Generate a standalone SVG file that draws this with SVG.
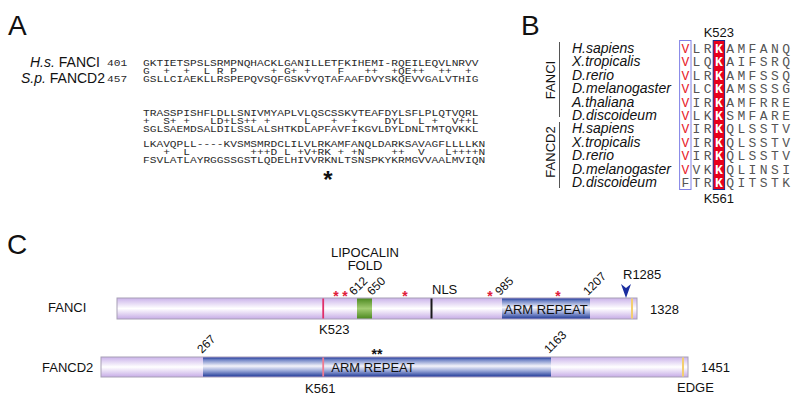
<svg xmlns="http://www.w3.org/2000/svg" width="800" height="400" viewBox="0 0 800 400">
<style>
.sans{font-family:"Liberation Sans",Arial,sans-serif;fill:#111}
.it{font-style:italic}
.seq{font-family:"Liberation Mono","Courier New",monospace;font-size:11.2px;fill:#2a2a2a;white-space:pre}
.bseq{font-family:"Liberation Mono","Courier New",monospace;font-size:13px;fill:#555}
.red{fill:#e8202a}
.kk{fill:#fff;font-weight:bold}
.panel{font-family:"Liberation Sans",Arial,sans-serif;font-size:28px;fill:#111}
.lab{font-family:"Liberation Sans",Arial,sans-serif;font-size:13px;fill:#111}
.num{font-family:"Liberation Sans",Arial,sans-serif;font-size:12px;fill:#111}
.rstar{font-family:"Liberation Sans",Arial,sans-serif;font-size:14px;font-weight:bold;fill:#e0203a}
.bar{fill:url(#lav);stroke:#a8a0b6;stroke-width:1}
</style>
<defs>
<linearGradient id="lav" x1="0" y1="0" x2="0" y2="1">
<stop offset="0" stop-color="#cab2ea"/><stop offset="0.5" stop-color="#ffffff"/><stop offset="1" stop-color="#c6ace6"/>
</linearGradient>
<linearGradient id="arm" x1="0" y1="0" x2="0" y2="1">
<stop offset="0" stop-color="#263f9a"/><stop offset="0.12" stop-color="#7084c6"/><stop offset="0.45" stop-color="#f4f4fb"/><stop offset="0.7" stop-color="#9aa8d8"/><stop offset="1" stop-color="#263f9a"/>
</linearGradient>
<linearGradient id="grn" x1="0" y1="0" x2="0" y2="1">
<stop offset="0" stop-color="#4e8a22"/><stop offset="0.5" stop-color="#a2cc72"/><stop offset="1" stop-color="#4e8a22"/>
</linearGradient>
</defs>

<!-- Panel A -->
<g id="panelA">
<text class="panel" x="8" y="35">A</text>
<text class="sans" font-size="14" x="100" y="67" text-anchor="end"><tspan class="it">H.s.</tspan> FANCI</text>
<text class="sans" font-size="14" x="105" y="83" text-anchor="end"><tspan class="it">S.p.</tspan> FANCD2</text>
<text class="seq" transform="translate(107,66) scale(1,0.8)">401</text>
<text class="seq" transform="translate(107,82) scale(1,0.8)">457</text>
<text class="seq" transform="translate(143,66) scale(1,0.8)">GKTIETSPSLSRMPNQHACKLGANILLETFKIHEMI-RQEILEQVLNRVV</text>
<text class="seq" transform="translate(143,74) scale(1,0.8)">G  +  +  L R P     + G+ +    F   ++  +QE++  ++  +</text>
<text class="seq" transform="translate(143,82) scale(1,0.8)">GSLLCIAEKLLRSPEPQVSQFGSKVYQTAFAAFDVYSKQEVVGALVTHIG</text>
<text class="seq" transform="translate(143,116) scale(1,0.8)">TRASSPISHFLDLLSNIVMYAPLVLQSCSSKVTEAFDYLSFLPLQTVQRL</text>
<text class="seq" transform="translate(143,124) scale(1,0.8)">+  S+ +   LD+LS++ +     L   +  +    DYL  L +  V++L</text>
<text class="seq" transform="translate(143,132) scale(1,0.8)">SGLSAEMDSALDILSSLALSHTKDLAPFAVFIKGVLDYLDNLTMTQVKKL</text>
<text class="seq" transform="translate(143,147) scale(1,0.8)">LKAVQPLL----KVSMSMRDCLILVLRKAMFANQLDARKSAVAGFLLLLKN</text>
<text class="seq" transform="translate(143,155) scale(1,0.8)">   +  L         +++D L +V+RK + +N    ++  V   L++++N</text>
<text class="seq" transform="translate(143,163) scale(1,0.8)">FSVLATLAYRGGSSGSTLQDELHIVVRKNLTSNSPKYKRMGVVAALMVIQN</text>
<text class="sans" font-size="24" font-weight="bold" x="328" y="188" text-anchor="middle">*</text>
</g>

<!-- Panel B -->
<g id="panelB">
<text class="panel" x="521" y="35">B</text>
<text class="lab" x="718.9" y="37" text-anchor="middle" font-size="14">K523</text>
<text class="lab" x="718.9" y="203" text-anchor="middle" font-size="14">K561</text>
<g id="groupLabels">
<line x1="559.5" y1="42" x2="559.5" y2="117" stroke="#555" stroke-width="1"/>
<line x1="559.5" y1="122" x2="559.5" y2="188" stroke="#555" stroke-width="1"/>
<text class="lab" font-size="12.5" transform="translate(555,80) rotate(-90)" text-anchor="middle">FANCI</text>
<text class="lab" font-size="12.5" transform="translate(555,152) rotate(-90)" text-anchor="middle">FANCD2</text>
</g>
<rect x="713.2" y="40.5" width="11.4" height="149" fill="#e8001c" stroke="#1e2a8a" stroke-width="1"/>
<rect x="679.6" y="40.5" width="11.4" height="149" fill="none" stroke="#8080e6" stroke-width="1"/>
<g class="sans it" font-size="14">
<text x="572" y="53">H.sapiens</text>
<text x="572" y="66.4">X.tropicalis</text>
<text x="572" y="79.8">D.rerio</text>
<text x="572" y="93.2">D.melanogaster</text>
<text x="572" y="106.6">A.thaliana</text>
<text x="572" y="120">D.discoideum</text>
<text x="572" y="133.4">H.sapiens</text>
<text x="572" y="146.8">X.tropicalis</text>
<text x="572" y="160.2">D.rerio</text>
<text x="572" y="173.6">D.melanogaster</text>
<text x="572" y="187">D.discoideum</text>
</g>
<g class="bseq" text-anchor="middle">
<text y="53"><tspan class="red" x="685.3">V</tspan><tspan x="696.5 707.7">LR</tspan><tspan class="kk" x="718.9">K</tspan><tspan x="730.1 741.3 752.5 763.7 774.9 786.1">AMFANQ</tspan></text>
<text y="66.4"><tspan class="red" x="685.3">V</tspan><tspan x="696.5 707.7">LQ</tspan><tspan class="kk" x="718.9">K</tspan><tspan x="730.1 741.3 752.5 763.7 774.9 786.1">AIFSRQ</tspan></text>
<text y="79.8"><tspan class="red" x="685.3">V</tspan><tspan x="696.5 707.7">LR</tspan><tspan class="kk" x="718.9">K</tspan><tspan x="730.1 741.3 752.5 763.7 774.9 786.1">AMFSSQ</tspan></text>
<text y="93.2"><tspan class="red" x="685.3">V</tspan><tspan x="696.5 707.7">LC</tspan><tspan class="kk" x="718.9">K</tspan><tspan x="730.1 741.3 752.5 763.7 774.9 786.1">AMSSSG</tspan></text>
<text y="106.6"><tspan class="red" x="685.3">V</tspan><tspan x="696.5 707.7">IR</tspan><tspan class="kk" x="718.9">K</tspan><tspan x="730.1 741.3 752.5 763.7 774.9 786.1">AMFRRE</tspan></text>
<text y="120"><tspan class="red" x="685.3">V</tspan><tspan x="696.5 707.7">LK</tspan><tspan class="kk" x="718.9">K</tspan><tspan x="730.1 741.3 752.5 763.7 774.9 786.1">SMFARE</tspan></text>
<text y="133.4"><tspan class="red" x="685.3">V</tspan><tspan x="696.5 707.7">IR</tspan><tspan class="kk" x="718.9">K</tspan><tspan x="730.1 741.3 752.5 763.7 774.9 786.1">QLSSTV</tspan></text>
<text y="146.8"><tspan class="red" x="685.3">V</tspan><tspan x="696.5 707.7">IR</tspan><tspan class="kk" x="718.9">K</tspan><tspan x="730.1 741.3 752.5 763.7 774.9 786.1">QLSSTV</tspan></text>
<text y="160.2"><tspan class="red" x="685.3">V</tspan><tspan x="696.5 707.7">IR</tspan><tspan class="kk" x="718.9">K</tspan><tspan x="730.1 741.3 752.5 763.7 774.9 786.1">QLSSTV</tspan></text>
<text y="173.6"><tspan class="red" x="685.3">V</tspan><tspan x="696.5 707.7">VK</tspan><tspan class="kk" x="718.9">K</tspan><tspan x="730.1 741.3 752.5 763.7 774.9 786.1">QLINSI</tspan></text>
<text y="187"><tspan x="685.3">F</tspan><tspan x="696.5 707.7">TR</tspan><tspan class="kk" x="718.9">K</tspan><tspan x="730.1 741.3 752.5 763.7 774.9 786.1">QITSTK</tspan></text>
</g>
</g>

<!-- Panel C -->
<text class="panel" x="7" y="254">C</text>

<g id="fanci">
<text class="lab" x="48" y="312">FANCI</text>
<rect class="bar" x="117" y="298" width="520" height="21"/>
<rect x="502" y="298.5" width="88" height="20" fill="url(#arm)"/>
<rect x="357" y="298.5" width="15" height="20" fill="url(#grn)"/>
<rect x="322.3" y="298.5" width="1.8" height="20" fill="#e0306a"/>
<rect x="430.5" y="298.5" width="2" height="20" fill="#1a1a1a"/>
<rect x="631" y="298.5" width="2" height="20" fill="#f3cf70"/>
<text class="lab" x="546" y="314" text-anchor="middle">ARM REPEAT</text>
<text class="lab" x="365" y="257" text-anchor="middle">LIPOCALIN</text>
<text class="lab" x="365" y="270" text-anchor="middle">FOLD</text>
<text class="lab" x="432" y="294">NLS</text>
<text class="lab" x="319" y="334">K523</text>
<text class="lab" x="623" y="279">R1285</text>
<text class="lab" x="650" y="314">1328</text>
<path d="M621,284 L626,288 L631,284 L626,298 Z" fill="#1a2ea0"/>
<text class="rstar" x="336" y="301" text-anchor="middle">*</text>
<text class="rstar" x="345" y="301" text-anchor="middle">*</text>
<text class="rstar" x="405" y="301" text-anchor="middle">*</text>
<text class="rstar" x="490" y="301" text-anchor="middle">*</text>
<text class="rstar" x="558" y="301" text-anchor="middle">*</text>
<text class="num" transform="translate(354,296) rotate(-45)">612</text>
<text class="num" transform="translate(372,296) rotate(-45)">650</text>
<text class="num" transform="translate(500,296) rotate(-45)">985</text>
<text class="num" transform="translate(588,296) rotate(-45)">1207</text>
</g>

<g id="fancd2">
<text class="lab" x="42" y="372">FANCD2</text>
<rect class="bar" x="101" y="357" width="587" height="20"/>
<rect x="203" y="357.5" width="348" height="19" fill="url(#arm)"/>
<rect x="322.3" y="357.5" width="1.8" height="19" fill="#f07a90"/>
<rect x="682" y="357.5" width="2" height="19" fill="#f3cf70"/>
<text class="lab" x="373" y="372" text-anchor="middle">ARM REPEAT</text>
<text class="sans" font-size="14" font-weight="bold" x="377" y="359" text-anchor="middle">**</text>
<text class="lab" x="701" y="372">1451</text>
<text class="lab" x="677" y="392">EDGE</text>
<text class="lab" x="305" y="393">K561</text>
<text class="num" transform="translate(202,354) rotate(-45)">267</text>
<text class="num" transform="translate(549,354) rotate(-45)">1163</text>
</g>

<g id="connectors"/>
</svg>
